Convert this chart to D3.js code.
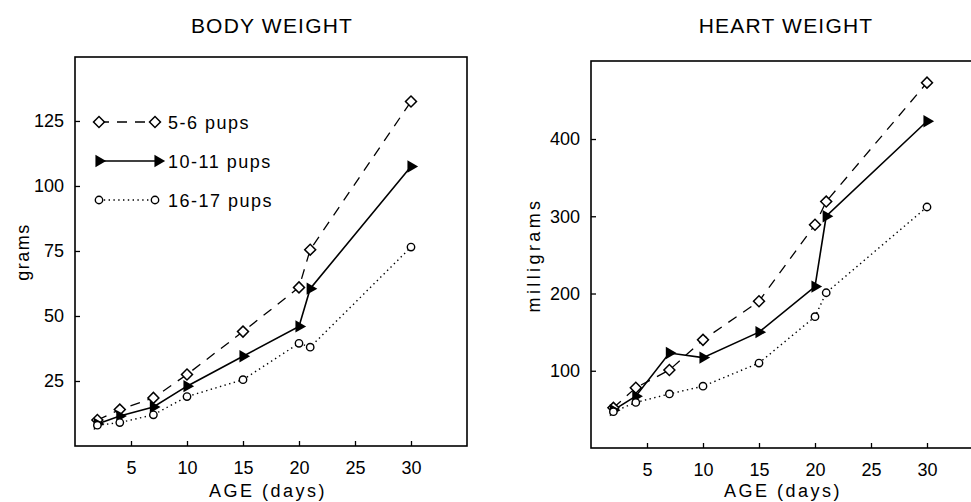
<!DOCTYPE html>
<html lang="en">
<head>
    <meta charset="UTF-8">
    <title>Body and heart weight</title>
    <script src="https://cdnjs.cloudflare.com/ajax/libs/d3/7.8.5/d3.min.js"></script>
    <style>
        body { margin: 0; background: #fff; }
        svg text {
            font-family: "Liberation Sans", Arial, sans-serif;
            fill: #000;
        }
        .frame { fill: none; stroke: #000; stroke-width: 1.6px; }
        .tick line { stroke: #000; stroke-width: 1.3px; }
    </style>
</head>
<body>
    <div id="chart"></div>

    <script>
        // data
        const ages = [2, 4, 7, 10, 15, 20, 21, 30];
        const groups = ["5-6 pups", "10-11 pups", "16-17 pups"];

        const bodySmall = [10, 14, 18.5, 27.5, 44, 61, 75.5, 132.5];
        const bodyMid = [8.5, 11.5, 15, 23, 34.5, 46, 60.5, 107.5];
        const bodyLarge = [8, 9, 12, 19, 25.5, 39.5, 38, 76.5];

        const heartSmall = [52, 78, 101, 140, 190, 289, 319, 473];
        const heartMid = [49, 67, 123, 117, 150, 209, 300, 423];
        const heartLarge = [47, 59, 70, 80, 110, 170, 201, 312];

        const xTicks = [5, 10, 15, 20, 25, 30];
        const bodyTicks = [25, 50, 75, 100, 125];
        const heartTicks = [100, 200, 300, 400];

        const width = 971, height = 502;

        const svg = d3.select("#chart").append("svg")
            .attr("width", width)
            .attr("height", height);

        // line style per group
        const dashes = ["10,8", null, "1.4,3.4"];
        const strokeW = [1.3, 1.6, 1.4];

        const diamond = d3.symbol().type(d3.symbolSquare).size(60);
        const triangle = d3.symbol().type(d3.symbolTriangle).size(66);

        function drawMarker(g, k, x, y) {
            if (k === 0) {
                g.append("path").attr("d", diamond())
                    .attr("transform", `translate(${x},${y}) rotate(45)`)
                    .attr("fill", "#fff").attr("stroke", "#000").attr("stroke-width", 1.5);
            } else if (k === 1) {
                g.append("path").attr("d", triangle())
                    .attr("transform", `translate(${x},${y}) rotate(90)`)
                    .attr("fill", "#000");
            } else {
                g.append("circle").attr("cx", x).attr("cy", y).attr("r", 3.7)
                    .attr("fill", "#fff").attr("stroke", "#000").attr("stroke-width", 1.4);
            }
        }

        function panel(opt) {
            const g = svg.append("g");
            const x = d3.scaleLinear().domain([0, 35]).range(opt.xr);
            const y = d3.scaleLinear().domain([0, opt.ymax]).range(opt.yr);

            // frame
            g.append("rect").attr("class", "frame")
                .attr("x", opt.xr[0]).attr("y", opt.yr[1])
                .attr("width", opt.xr[1] - opt.xr[0])
                .attr("height", opt.yr[0] - opt.yr[1]);

            // axes with inward ticks
            const xa = g.append("g")
                .attr("transform", `translate(0,${opt.yr[0]})`)
                .call(d3.axisBottom(x).tickValues(xTicks).tickSize(-5).tickPadding(15));
            const ya = g.append("g")
                .attr("transform", `translate(${opt.xr[0]},0)`)
                .call(d3.axisLeft(y).tickValues(opt.yTicks).tickSize(-5).tickPadding(11));
            xa.select(".domain").remove();
            ya.select(".domain").remove();
            g.selectAll(".tick text").style("font-size", "18px");

            // titles
            g.append("text").attr("x", opt.titleX).attr("y", 33)
                .attr("text-anchor", "middle")
                .style("font-size", "21px").style("letter-spacing", "1.2px")
                .text(opt.title);
            g.append("text").attr("x", opt.xLabelX).attr("y", 497)
                .attr("text-anchor", "middle").style("font-size", "18px")
                .style("letter-spacing", "2.5px")
                .text("AGE (days)");
            g.append("text")
                .attr("transform", `translate(${opt.yLabelX},${opt.yLabelY}) rotate(-90)`)
                .attr("text-anchor", "middle").style("font-size", "18px")
                .style("letter-spacing", opt.yLabelSpacing)
                .text(opt.yLabel);

            const line = d3.line().x((d, i) => x(ages[i])).y(d => y(d));

            opt.series.forEach((vals, k) => {
                g.append("path").datum(vals)
                    .attr("d", line)
                    .attr("fill", "none")
                    .attr("stroke", "#000")
                    .attr("stroke-width", strokeW[k])
                    .attr("stroke-dasharray", dashes[k]);
            });
            opt.series.forEach((vals, k) => {
                vals.forEach((v, i) => drawMarker(g, k, x(ages[i]), y(v)));
            });
            return g;
        }

        const left = panel({
            xr: [75, 467], yr: [446, 57], ymax: 149.6,
            yTicks: bodyTicks, title: "BODY WEIGHT", titleX: 272,
            xLabelX: 268, yLabel: "grams", yLabelX: 29, yLabelY: 252,
            yLabelSpacing: "1.5px",
            series: [bodySmall, bodyMid, bodyLarge]
        });

        panel({
            xr: [591, 983], yr: [448, 61], ymax: 501,
            yTicks: heartTicks, title: "HEART WEIGHT", titleX: 786,
            xLabelX: 783, yLabel: "milligrams", yLabelX: 540, yLabelY: 255,
            yLabelSpacing: "3.4px",
            series: [heartSmall, heartMid, heartLarge]
        });

        // legend in the body weight panel
        const legY = [122, 161, 200];
        groups.forEach((name, k) => {
            const x0 = 99, x1 = k === 1 ? 158 : 155;
            left.append("line")
                .attr("x1", x0).attr("x2", x1).attr("y1", legY[k]).attr("y2", legY[k])
                .attr("stroke", "#000").attr("stroke-width", strokeW[k])
                .attr("stroke-dasharray", dashes[k]);
            drawMarker(left, k, x0, legY[k]);
            drawMarker(left, k, x1, legY[k]);
            left.append("text").attr("x", 168).attr("y", legY[k] + 7)
                .style("font-size", "18px").style("letter-spacing", "1.5px")
                .text(name);
        });
    </script>
</body>
</html>
